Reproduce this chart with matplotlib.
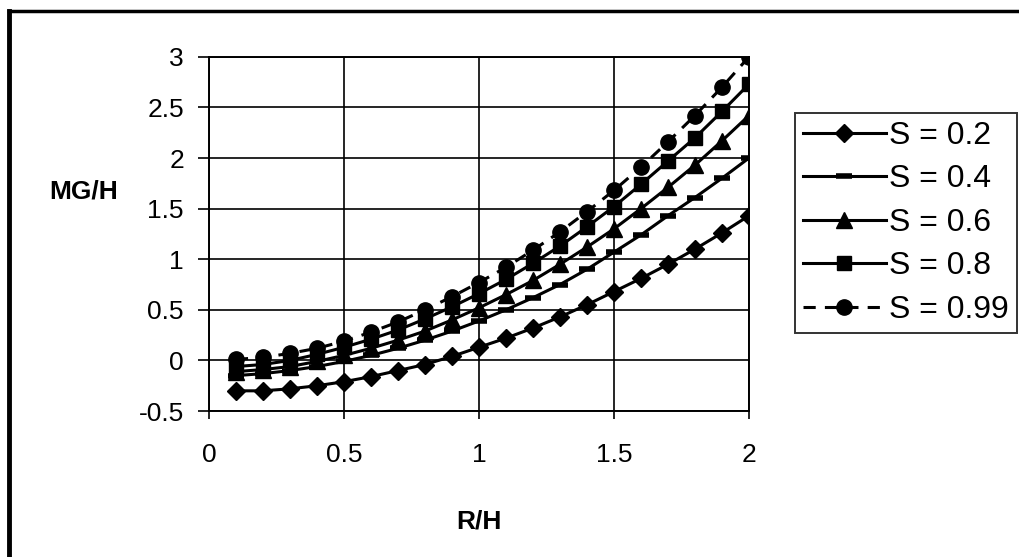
import numpy as np
import matplotlib.pyplot as plt
from matplotlib.lines import Line2D

plt.rcParams['font.family'] = ['Liberation Sans', 'DejaVu Sans']

rh = [0.1, 0.2, 0.3, 0.4, 0.5, 0.6, 0.7, 0.8, 0.9, 1.0,
      1.1, 1.2, 1.3, 1.4, 1.5, 1.6, 1.7, 1.8, 1.9, 2.0]

s02 = [-0.30, -0.30, -0.28, -0.25, -0.21, -0.16, -0.10, -0.04, 0.04, 0.13,
       0.22, 0.32, 0.43, 0.55, 0.68, 0.81, 0.95, 1.10, 1.26, 1.43]
s04 = [-0.15, -0.13, -0.10, -0.06, -0.01, 0.05, 0.12, 0.20, 0.29, 0.39,
       0.50, 0.62, 0.75, 0.90, 1.07, 1.24, 1.43, 1.61, 1.80, 2.00]
s06 = [-0.11, -0.09, -0.06, -0.01, 0.05, 0.12, 0.20, 0.29, 0.40, 0.52,
       0.65, 0.79, 0.95, 1.12, 1.30, 1.50, 1.71, 1.93, 2.17, 2.42]
s08 = [-0.06, -0.04, 0.00, 0.06, 0.13, 0.21, 0.30, 0.41, 0.53, 0.66,
       0.80, 0.96, 1.13, 1.32, 1.52, 1.74, 1.97, 2.20, 2.46, 2.73]
s099 = [0.01, 0.03, 0.07, 0.12, 0.19, 0.28, 0.38, 0.50, 0.63, 0.77,
        0.92, 1.09, 1.27, 1.47, 1.68, 1.91, 2.16, 2.42, 2.70, 3.00]

labels = ['S = 0.2', 'S = 0.4', 'S = 0.6', 'S = 0.8', 'S = 0.99']
xticks = [0, 0.5, 1, 1.5, 2]
yticks = [-0.5, 0, 0.5, 1, 1.5, 2, 2.5, 3]

fig = plt.figure(figsize=(10.19, 5.57), dpi=100)
ax = fig.add_axes([0.205, 0.262, 0.53, 0.636])

# outer chart frame: only top and left edges are inside the image
fig.lines.append(Line2D([0.009, 0.009], [0.0, 0.981], transform=fig.transFigure,
                        color='black', lw=3.5, solid_capstyle='projecting'))
fig.lines.append(Line2D([0.009, 1.0], [0.981, 0.981], transform=fig.transFigure,
                        color='black', lw=2.5, solid_capstyle='projecting'))

lw = 2.2
ax.plot(rh, s02, color='black', lw=lw, marker='D', ms=9, label=labels[0])
ax.plot(rh, s04, color='black', lw=lw, marker='_', ms=11, mew=4, label=labels[1])
ax.plot(rh, s06, color='black', lw=lw, marker='^', ms=11, label=labels[2])
ax.plot(rh, s08, color='black', lw=lw, marker='s', ms=10, label=labels[3])
ax.plot(rh, s099, color='black', lw=lw, ls=(0, (4, 3)), marker='o', ms=11, label=labels[4])

ax.set_xlim(0, 2)
ax.set_ylim(-0.5, 3)
ax.set_xticks(xticks)
ax.set_xticklabels([f'{v:g}' for v in xticks])
ax.set_yticks(yticks)
ax.set_yticklabels([f'{v:g}' for v in yticks])
ax.grid(True, color='black', lw=1.2)
ax.tick_params(labelsize=19, color='black', width=1.2)
ax.tick_params(axis='x', length=6, pad=17)
ax.tick_params(axis='y', length=8, pad=10)
for sp in ax.spines.values():
    sp.set_linewidth(1.4)

ax.set_xlabel('R/H', fontsize=19, fontweight='bold')
ax.xaxis.set_label_coords(0.5, -0.277)
ax.set_ylabel('MG/H', fontsize=19, fontweight='bold', rotation=0, va='center', ha='center')
ax.yaxis.set_label_coords(-0.232, 0.621)

leg = fig.legend(loc='upper left', bbox_to_anchor=(0.780, 0.797), borderaxespad=0,
                 fontsize=23, frameon=True, fancybox=False, edgecolor='black',
                 handlelength=2.6, handletextpad=0.1, borderpad=0.25, labelspacing=0.42)
leg.get_frame().set_linewidth(1.4)

plt.savefig('out.png', dpi=100)
